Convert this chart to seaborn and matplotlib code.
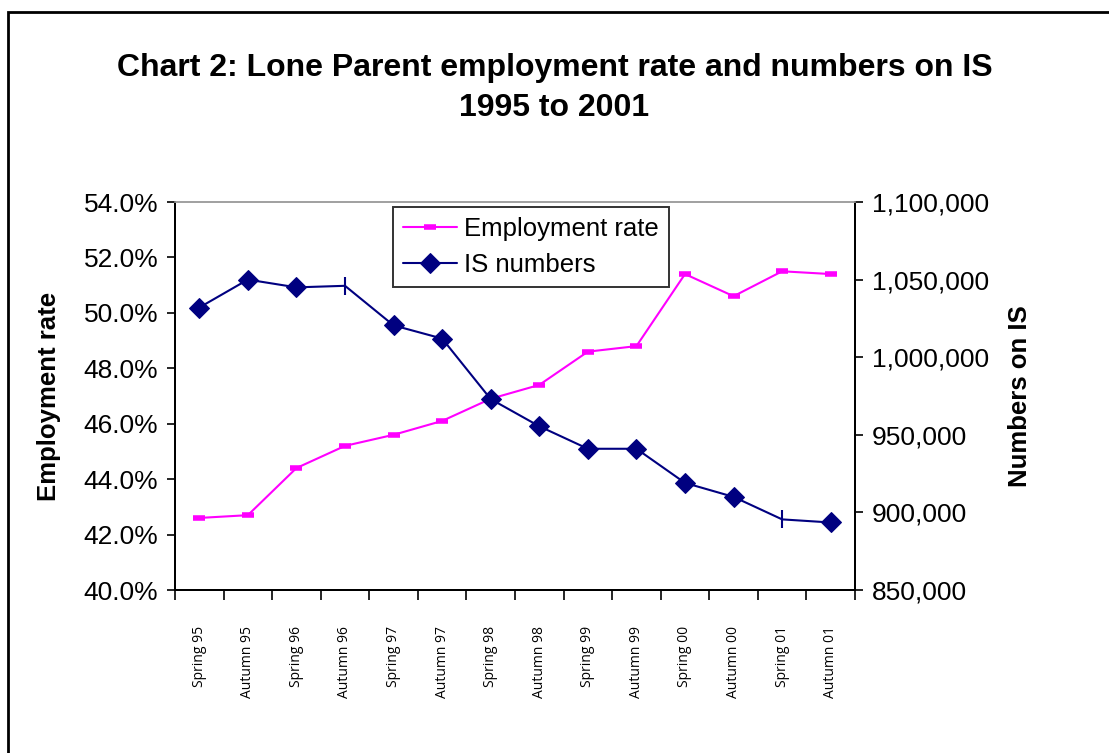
import numpy as np
import pandas as pd
import matplotlib
matplotlib.use('Agg')
import matplotlib.pyplot as plt
import seaborn as sns
from matplotlib.ticker import FuncFormatter
from matplotlib.patches import Rectangle

# ============================================================
# Data
# ============================================================
periods = ['Spring 95', 'Autumn 95', 'Spring 96', 'Autumn 96', 'Spring 97',
           'Autumn 97', 'Spring 98', 'Autumn 98', 'Spring 99', 'Autumn 99',
           'Spring 00', 'Autumn 00', 'Spring 01', 'Autumn 01']
employment_rate = [42.6, 42.7, 44.4, 45.2, 45.6, 46.1, 46.9, 47.4,
                   48.6, 48.8, 51.4, 50.6, 51.5, 51.4]
is_numbers = [1032000, 1050000, 1045000, 1046000, 1020500, 1012000, 973000,
              955500, 941000, 941000, 919000, 910000, 895500, 893500]
# points drawn with a plain tick instead of a diamond
tick_points = ['Autumn 96', 'Spring 01']

df = pd.DataFrame({'period': periods, 'x': np.arange(len(periods)),
                   'rate': employment_rate, 'is_num': is_numbers})

sns.set_style('white')
plt.rcParams['font.family'] = ['Liberation Sans', 'DejaVu Sans']
for key in ('text.color', 'axes.labelcolor', 'xtick.color', 'ytick.color'):
    plt.rcParams[key] = 'black'

fig = plt.figure(figsize=(11.09, 7.53), dpi=100)
ax = fig.add_axes([175 / 1109, 1 - 590 / 753, 680 / 1109, 388 / 753])
ax2 = ax.twinx()

# Employment rate (left axis)
sns.lineplot(data=df, x='x', y='rate', ax=ax, color='#FF00FF', lw=1.5,
             marker='_', markersize=9, markeredgewidth=4,
             markeredgecolor='#FF00FF', label='Employment rate', legend=False,
             sort=False)

# IS numbers (right axis)
diamond_idx = [i for i, p in enumerate(periods) if p not in tick_points]
sns.lineplot(data=df, x='x', y='is_num', ax=ax2, color='#000080', lw=1.5,
             marker='D', markersize=10, markevery=diamond_idx,
             markeredgecolor='#000080', label='IS numbers', legend=False,
             sort=False)
sns.scatterplot(data=df[df['period'].isin(tick_points)], x='x', y='is_num',
                ax=ax2, marker='|', s=180, linewidth=1.5, color='#000080',
                legend=False)

ax.set_xlim(-0.5, len(periods) - 0.5)
ax.set_ylim(40, 54)
ax.set_yticks(np.arange(40, 54.1, 2))
ax.yaxis.set_major_formatter(FuncFormatter(lambda v, p: f'{v:.1f}%'))
ax2.set_ylim(850000, 1100000)
ax2.set_yticks(np.arange(850000, 1100001, 50000))
ax2.yaxis.set_major_formatter(FuncFormatter(lambda v, p: f'{int(v):,}'))

ax.set_xticks(np.arange(-0.5, len(periods), 1.0))
ax.set_xticklabels([])
ax.set_xticks(np.arange(len(periods)), minor=True)
ax.set_xticklabels(periods, minor=True, rotation=90, fontsize=10,
                   family=['Open Sans', 'DejaVu Sans'])
ax.tick_params(axis='x', which='major', direction='out', length=7, width=1.2,
               bottom=True, color='black')
ax.tick_params(axis='x', which='minor', length=0, pad=26)
ax.tick_params(axis='y', direction='out', length=6, width=1.2, left=True,
               labelsize=19, color='black', pad=6)
ax2.tick_params(axis='y', direction='out', length=6, width=1.2, right=True,
                labelsize=19, color='black', pad=6)

ax.set_xlabel('')
ax.set_ylabel('Employment rate', fontsize=18.5, fontweight='bold', labelpad=16)
ax2.set_ylabel('Numbers on IS', fontsize=18.5, fontweight='bold', labelpad=14)

for a in (ax, ax2):
    for side in ('left', 'right', 'bottom'):
        a.spines[side].set_color('black')
        a.spines[side].set_linewidth(1.4)
    a.spines['top'].set_color('#a0a0a0')
    a.spines['top'].set_linewidth(1.2)

# Legend
h1, l1 = ax.get_legend_handles_labels()
h2, l2 = ax2.get_legend_handles_labels()
leg = ax2.legend(h1 + h2[:1], l1 + l2[:1], loc='upper left',
                 bbox_to_anchor=((393 - 175) / 680, 1 - 5 / 388),
                 fontsize=18.5, frameon=True, fancybox=False, borderpad=0.4,
                 handlelength=2.1, handletextpad=0.25, labelspacing=0.45,
                 borderaxespad=0)
leg.get_frame().set_edgecolor('black')
leg.get_frame().set_linewidth(1.4)

fig.text(0.5, 1 - 76 / 753, 'Chart 2: Lone Parent employment rate and numbers on IS',
         ha='center', va='baseline', fontsize=23, fontweight='bold')
fig.text(0.5, 1 - 116 / 753, '1995 to 2001', ha='center', va='baseline',
         fontsize=23, fontweight='bold')

# outer chart border
fig.patches.append(Rectangle((8 / 1109, -0.05), 1.1, 1 - 12 / 753 + 0.05,
                             transform=fig.transFigure, fill=False,
                             edgecolor='black', linewidth=2))

fig.savefig('out.png', dpi=100)
